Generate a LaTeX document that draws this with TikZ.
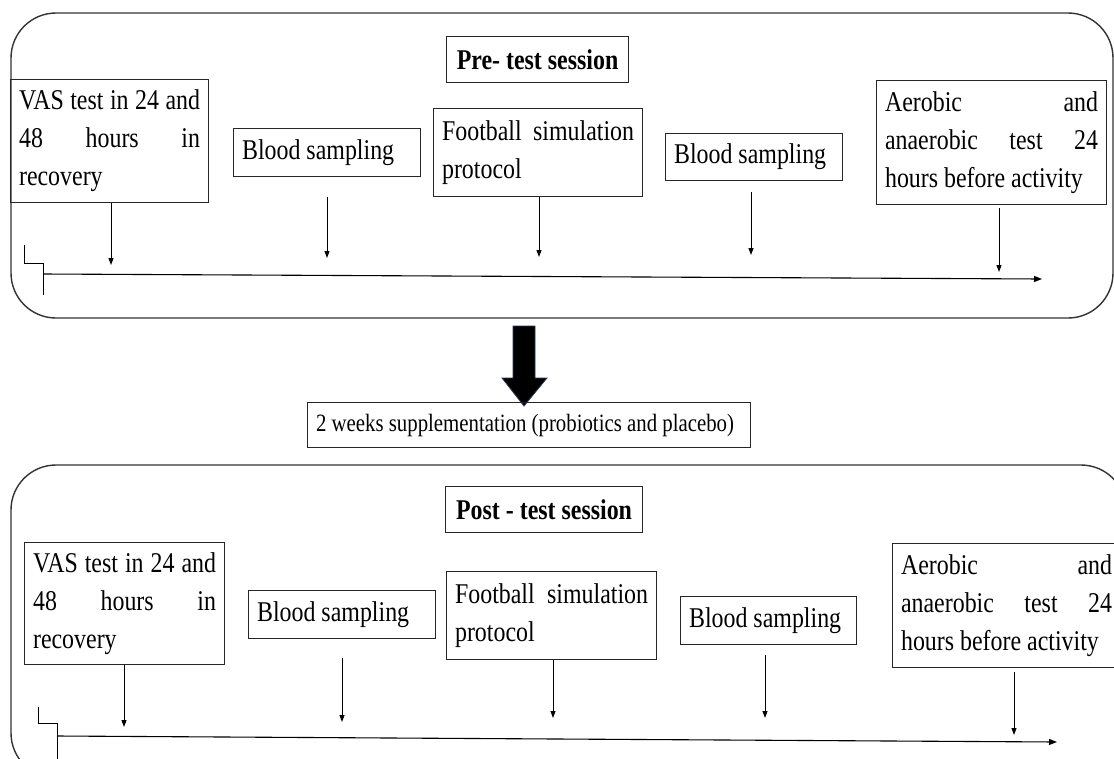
\documentclass[tikz,border=0pt]{standalone}
\usepackage{fontspec}
\setmainfont{Liberation Serif}[FakeStretch=0.836]
\usetikzlibrary{arrows.meta,calc}
\newcommand{\jl}[2]{\makebox[#1][s]{\spaceskip=0pt\xspaceskip=0pt #2}}
\begin{document}
\begin{tikzpicture}[x=1pt,y=-1pt,
  outer/.style={draw=black!80, line width=1.4pt, rounded corners=45pt},
  tbox/.style={draw=black!85, line width=1.1pt, anchor=north west, inner xsep=8.5pt, inner ysep=0pt,
               align=left, font=\fontsize{28.6}{38}\selectfont,
               execute at begin node={\spaceskip=0pt\xspaceskip=0pt\hyphenpenalty=10000}},
  ttl/.style={draw=black!85, line width=1.1pt, anchor=north west, inner xsep=8.5pt, inner ysep=0pt,
              font=\fontsize{28.6}{38}\selectfont\bfseries},
  sup/.style={tbox, font=\fontsize{24.9}{30}\selectfont},
  arr/.style={line width=1pt, -{Triangle[length=7pt,width=5pt]}},
  tline/.style={line width=1.1pt, -{Triangle[length=8pt,width=6pt]}},
]
\useasboundingbox (0,0) rectangle (1114,758);
\clip (0,0) rectangle (1114,758);

% ---------- Pre-test session ----------
\draw[outer] (11,13) rectangle (1113,318);
\node[ttl, minimum width=182pt, minimum height=46pt] (pre) at (446,36) {Pre- test session};
\node[tbox, text width=181pt, minimum height=123pt] (vasA) at (10,79)
  {\jl{181pt}{VAS test in 24 and}\\\jl{181pt}{48 hours in}\\recovery};
\node[tbox, text width=170pt, minimum height=48pt] (bsA) at (233,128) {Blood sampling};
\node[tbox, text width=192pt, minimum height=88pt] (fbA) at (433,108)
  {\jl{192pt}{Football simulation}\\protocol};
\node[tbox, text width=160pt, minimum height=47pt] (bsB) at (665,133) {Blood sampling};
\node[tbox, text width=213pt, minimum height=124pt] (aeA) at (876,80)
  {\jl{213pt}{Aerobic and}\\\jl{213pt}{anaerobic test 24}\\hours before activity};

\coordinate (a1e) at (111,265);
\coordinate (a2s) at (327,197); \coordinate (a2e) at (327,258);
\coordinate (a3e) at (539,257);
\coordinate (a4s) at (751,192); \coordinate (a4e) at (751,255);
\coordinate (a5s) at (999,208); \coordinate (a5e) at (999,272);
\draw[arr] (vasA.south -| a1e) -- (a1e);
\draw[arr] (a2s) -- (a2e);
\draw[arr] (fbA.south -| a3e) -- (a3e);
\draw[arr] (a4s) -- (a4e);
\draw[arr] (a5s) -- (a5e);
\coordinate (tlAs) at (43,274); \coordinate (tlAe) at (1042,279);
\draw[tline] (tlAs) -- (tlAe);
\draw[line width=1pt] (24,245) -- (24,263) -- (43,263) -- (43,295);

% ---------- Supplementation ----------
\draw[fill=black, draw={rgb,255:red,40;green,60;blue,95}, line width=0.8pt, line join=miter]
  (513,326) -- (535,326) -- (535,378) -- (547,378) -- (524,406) -- (502,378) -- (513,378) -- cycle;
\node[sup, text width=426pt, minimum height=45pt] (supp) at (307,402)
  {2 weeks supplementation (probiotics and placebo)};

% ---------- Post-test session ----------
\draw[outer] (11,465) rectangle (1126,778);
\node[ttl, minimum width=197pt, minimum height=46pt] (post) at (445,486) {Post - test session};
\node[tbox, text width=183pt, minimum height=122pt] (vasB) at (24,542)
  {\jl{183pt}{VAS test in 24 and}\\\jl{183pt}{48 hours in}\\recovery};
\node[tbox, text width=170pt, minimum height=48pt] (bsC) at (248,590) {Blood sampling};
\node[tbox, text width=193pt, minimum height=88pt] (fbB) at (446,571)
  {\jl{193pt}{Football simulation}\\protocol};
\node[tbox, text width=159pt, minimum height=48pt] (bsD) at (680,596) {Blood sampling};
\node[tbox, text width=211pt, minimum height=124pt] (aeB) at (892,543)
  {\jl{211pt}{Aerobic and}\\\jl{211pt}{anaerobic test 24}\\hours before activity};

\coordinate (b1e) at (124,727);
\coordinate (b2s) at (342,658); \coordinate (b2e) at (342,722);
\coordinate (b3e) at (553,718);
\coordinate (b4s) at (765,655); \coordinate (b4e) at (765,718);
\coordinate (b5s) at (1014,672); \coordinate (b5e) at (1014,735);
\draw[arr] (vasB.south -| b1e) -- (b1e);
\draw[arr] (b2s) -- (b2e);
\draw[arr] (fbB.south -| b3e) -- (b3e);
\draw[arr] (b4s) -- (b4e);
\draw[arr] (b5s) -- (b5e);
\coordinate (tlBs) at (57,736); \coordinate (tlBe) at (1057,742);
\draw[tline] (tlBs) -- (tlBe);
\draw[line width=1pt] (38,707) -- (38,723) -- (57,723) -- (57,770);
\end{tikzpicture}
\end{document}
